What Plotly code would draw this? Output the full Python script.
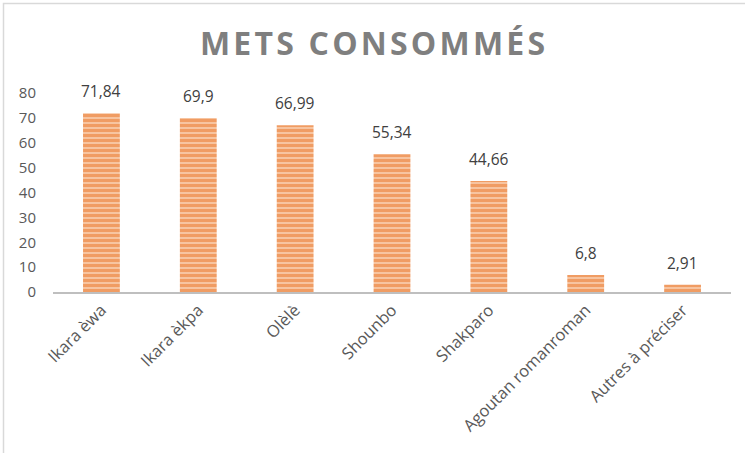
import plotly.graph_objects as go

categories = ["Ikara èwa", "Ikara èkpa", "Olèlè", "Shounbo", "Shakparo",
              "Agoutan romanroman", "Autres à préciser"]
values = [71.84, 69.9, 66.99, 55.34, 44.66, 6.8, 2.91]
labels = [str(v).replace(".", ",") for v in values]
y_ticks = [0, 10, 20, 30, 40, 50, 60, 70, 80]

title = "\u200a".join(list("METS CONSOMMÉS"))

fig = go.Figure(go.Bar(
    x=categories, y=values,
    marker=dict(color="#ED7D31", line=dict(width=0),
                pattern=dict(shape="-", fgcolor="#EA7425", bgcolor="#F7C4A0",
                             size=5, solidity=0.6)),
    width=0.38,
))

for c, v, t in zip(categories, values, labels):
    fig.add_annotation(x=c, y=v, text=t, showarrow=False, yanchor="bottom",
                       yshift=9,
                       font=dict(family="Open Sans, Liberation Sans, sans-serif",
                                 size=15.5, color="#404040"))

L, R, T, B = 53, 14, 93, 161
fig.update_layout(
    width=745, height=453,
    margin=dict(l=L, r=R, t=T, b=B),
    paper_bgcolor="white", plot_bgcolor="white",
    showlegend=False,
    title=dict(text="<b>" + title + "</b>", x=0.5, xanchor="center",
               y=1 - 44 / 453, yanchor="middle",
               font=dict(family="Open Sans, sans-serif", size=32, color="#7F7F7F")),
    font=dict(family="Open Sans, Liberation Sans, sans-serif", color="#595959"),
)
fig.update_xaxes(showline=True, linecolor="#BFBFBF", linewidth=2, ticks="",
                 tickangle=-45, tickfont=dict(size=16.5, color="#595959"),
                 showgrid=False, automargin=False)
fig.update_yaxes(range=[0, 80], tickvals=y_ticks, showgrid=False, showline=False,
                 zeroline=False, ticks="", tickfont=dict(size=15, color="#595959"),
                 ticklabelstandoff=16, automargin=False)

pw = 745 - L - R
ph = 453 - T - B
fig.add_shape(type="rect", xref="paper", yref="paper",
              x0=(3.5 - L) / pw, x1=(760 - L) / pw,
              y0=-(470 - (T + ph)) / ph, y1=1 + (T - 3.5) / ph,
              line=dict(color="#D9D9D9", width=1.5), layer="below")

fig.write_html("out.html", config={"displayModeBar": False},
               post_script="document.body.style.margin='0px';")
